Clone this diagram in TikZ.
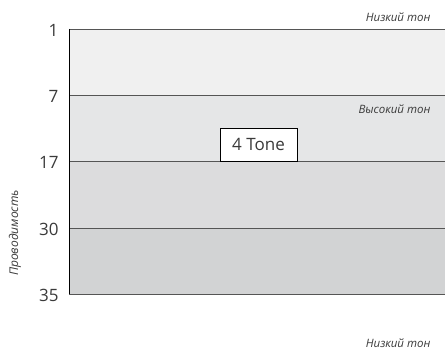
\documentclass[tikz,border=0pt]{standalone}
\usepackage{fontspec}
\setmainfont{Open Sans}

\definecolor{bandA}{HTML}{F0F0F0}
\definecolor{bandB}{HTML}{E5E6E7}
\definecolor{bandC}{HTML}{DCDCDD}
\definecolor{bandD}{HTML}{D2D3D4}
\definecolor{rule}{HTML}{555555}
\definecolor{note}{HTML}{3A3A3A}

\begin{document}
\begin{tikzpicture}[x=1pt, y=-1pt,
  level/.style={anchor=east, font=\fontsize{17}{17}\selectfont\color{note}},
  tone/.style={anchor=east, font=\fontsize{11.5}{12}\selectfont\itshape\color{note}}]
\useasboundingbox (0,0) rectangle (445,350);

\fill[bandA] (69,29) rectangle (445,95);
\fill[bandB] (69,95) rectangle (445,161);
\fill[bandC] (69,161) rectangle (445,228);
\fill[bandD] (69,228) rectangle (445,294);

\draw[rule, line width=0.9pt] (69,29) -- (445,29);
\draw[rule, line width=0.9pt] (69,95) -- (445,95);
\draw[rule, line width=0.9pt] (69,161) -- (445,161);
\draw[rule, line width=0.9pt] (69,228) -- (445,228);
\draw[rule, line width=0.9pt] (69,294) -- (445,294);
\draw[black, line width=0.9pt] (69,29) -- (69,294);

\node[level] (L1) at (62,30) {1};
\node[level] (L7) at (62,96) {7};
\node[level] (L17) at (62,162) {17};
\node[level] (L30) at (62,229) {30};
\node[level] (L35) at (62,295) {35};

\node[tone] (T1) at (434,17) {Низкий тон};
\node[tone] (T2) at (434,109) {Высокий тон};
\node[tone] (T3) at (434,343) {Низкий тон};

\node[rotate=90, font=\fontsize{12}{12}\selectfont\itshape\color{note}] (Y) at (15,233) {Проводимость};

\node[draw=black, fill=white, line width=0.8pt, minimum width=77pt, minimum height=33pt,
  font=\fontsize{17}{17}\selectfont\color{note}] (Box) at (258.5,144.5) {4 Tone};
\end{tikzpicture}
\end{document}
